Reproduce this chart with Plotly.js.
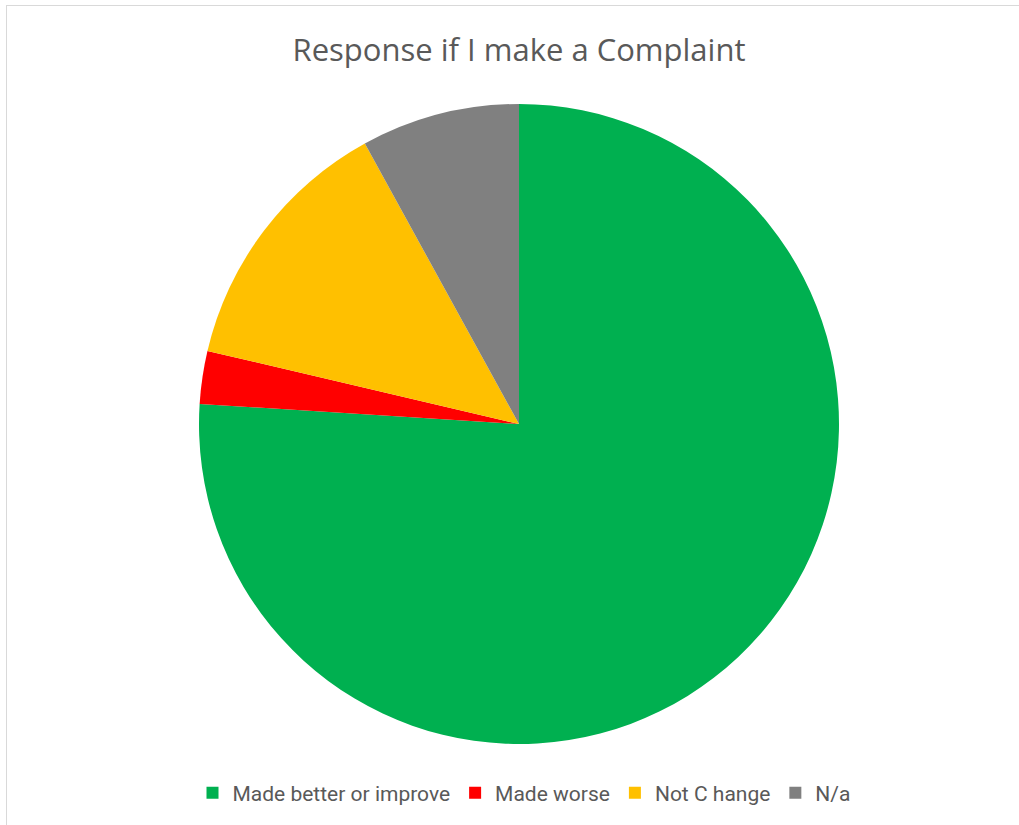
<!DOCTYPE html>
<html>
<head>
<meta charset="utf-8">
<script src="https://cdn.plot.ly/plotly-3.0.1.min.js"></script>
<style>
html,body{margin:0;padding:0;background:#fff;}
#frame{position:absolute;left:6px;top:5px;width:1013px;height:820px;border-left:1px solid #d9d9d9;border-top:1px solid #d9d9d9;box-sizing:border-box;}
#chart{position:absolute;left:0;top:0;width:1019px;height:825px;}
</style>
</head>
<body>
<div id="frame"></div>
<div id="chart"></div>
<script>
const categories = ["Made better or improve", "Made worse", "Not C hange", "N/a"];
const values = [57, 2, 10, 6];
const colors = ["#00B050", "#FF0000", "#FFC000", "#808080"];

const W = 1019, H = 825;
const cx = 519, cy = 424, r = 320;

const trace = {
  type: "pie",
  labels: categories,
  values: values,
  sort: false,
  direction: "clockwise",
  rotation: 0,
  textinfo: "none",
  marker: {colors: colors, line: {width: 0}},
  domain: {x: [(cx - r) / W, (cx + r) / W], y: [1 - (cy + r) / H, 1 - (cy - r) / H]},
  hoverinfo: "label+value+percent"
};

const layout = {
  width: W, height: H,
  margin: {l: 0, r: 0, t: 0, b: 0},
  paper_bgcolor: "rgba(0,0,0,0)",
  plot_bgcolor: "rgba(0,0,0,0)",
  font: {family: "Roboto, 'Open Sans', sans-serif", color: "#595959"},
  title: {
    text: "Response if I make a Complaint",
    font: {size: 31, color: "#595959", family: "'Open Sans', sans-serif"},
    x: 519 / W, xanchor: "center",
    y: 1 - 50 / H, yanchor: "middle"
  },
  showlegend: true,
  legend: {
    orientation: "h",
    x: 524 / W, xanchor: "center",
    y: 1 - 793 / H, yanchor: "middle",
    font: {size: 21, color: "#595959"},
    itemwidth: 30,
    traceorder: "normal"
  }
};

Plotly.newPlot("chart", [trace], layout, {displayModeBar: false, staticPlot: true});
</script>
</body>
</html>
